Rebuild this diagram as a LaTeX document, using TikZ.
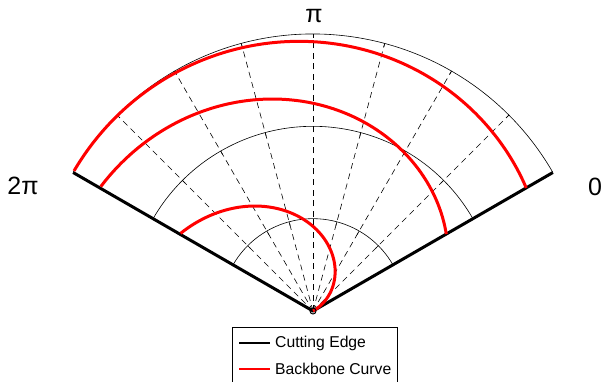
\documentclass[tikz,border=0pt]{standalone}
\usepackage{fontspec}
\setmainfont{Liberation Sans}
\begin{document}
\begin{tikzpicture}[x=1pt,y=1pt,
  gridarc/.style={black,line width=0.6pt},
  spoke/.style={black,line width=0.6pt,dash pattern=on 6pt off 4.5pt},
  tickmark/.style={black,line width=0.6pt},
  cutedge/.style={black,line width=3pt,line join=round},
  backbone/.style={red,line width=3pt},
  biglabel/.style={inner sep=0pt,font=\fontsize{25}{30}\selectfont},
  legtext/.style={inner sep=0pt,anchor=west,font=\fontsize{15.7}{18}\selectfont}]
\useasboundingbox (0,0) rectangle (603,381);
\coordinate (C) at (313,70);
\begin{scope}[shift={(C)}]
  % spokes
  \foreach \a in {45,60,...,135}
    \draw[spoke] (0,0) -- (\a:277);
  % grid arcs
  \foreach \r in {92.333,184.667,277}
    \draw[gridarc] (30:\r) arc[start angle=30,end angle=150,radius=\r];
  % ticks
  \foreach \r in {92.333,184.667,277}
    \foreach \a in {45,60,...,135}
      \draw[tickmark] (\a:\r-4) -- (\a:\r);
  % cutting edge
  \coordinate (L) at (150:277);
  \coordinate (R) at (30:277);
  \draw[cutedge] (L) -- (0,0) -- (R);
  % backbone curve
  \draw[backbone] plot[domain=0:0.33333,samples=120,smooth] ({30+360*\x}:{277*\x*(2-\x)});
  \draw[backbone] plot[domain=0.33333:0.66667,samples=120,smooth] ({30+360*\x-120}:{277*\x*(2-\x)});
  \draw[backbone] plot[domain=0.66667:1,samples=120,smooth] ({30+360*\x-240}:{277*\x*(2-\x)});
  % center marker
  \draw[black,line width=1pt] (0,0) circle[radius=3];
\end{scope}
% axis labels
\node[biglabel] (lpi) at (314,365) {π};
\node[biglabel] (l2pi) at (23,195) {2π};
\node[biglabel] (l0) at (595,194) {0};
% legend
\draw[black,line width=0.6pt] (232,-2) -- (232,54) -- (397,54) -- (397,-2);
\coordinate (k1a) at (239,38);
\coordinate (k1b) at (270,38);
\coordinate (k2a) at (239,12);
\coordinate (k2b) at (270,12);
\draw[black,line width=2.5pt] (k1a) -- (k1b);
\draw[red,line width=2.5pt] (k2a) -- (k2b);
\node[legtext] (t1) at (275,38) {Cutting Edge};
\node[legtext] (t2) at (275,12) {Backbone Curve};
\end{tikzpicture}
\end{document}
